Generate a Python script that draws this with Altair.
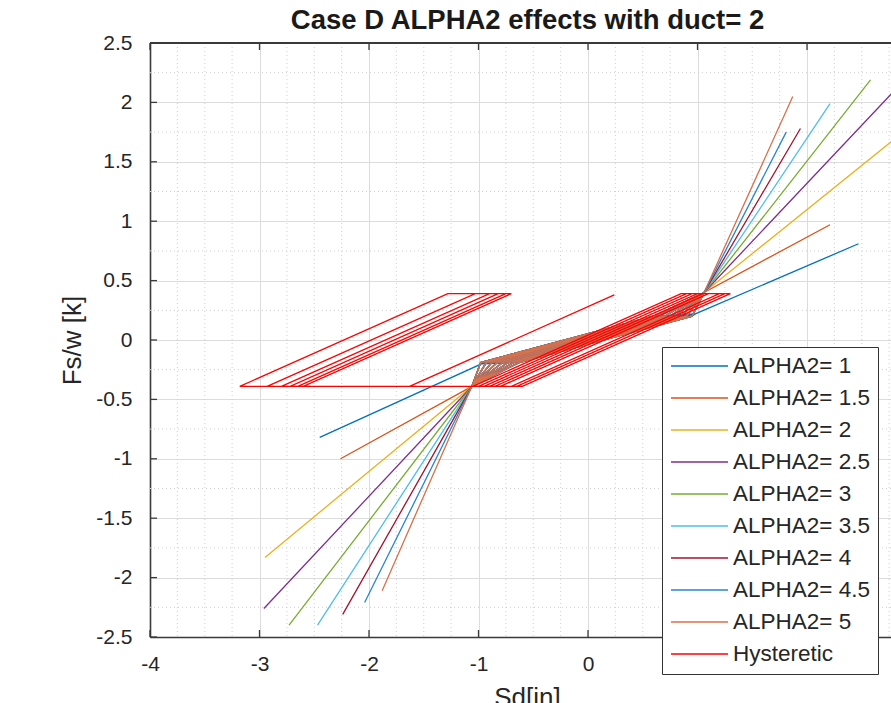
import altair as alt
import pandas as pd

# ---------------- data ----------------
labels = ["ALPHA2= 1", "ALPHA2= 1.5", "ALPHA2= 2", "ALPHA2= 2.5", "ALPHA2= 3",
          "ALPHA2= 3.5", "ALPHA2= 4", "ALPHA2= 4.5", "ALPHA2= 5", "Hysteretic"]
colors = ["#0072BD", "#D95319", "#EDB120", "#7E2F8E", "#77AC30",
          "#4DBEEE", "#A2142F", "#2A85D0", "#D8704A", "#FF0000"]

# ALPHA2 curve end points (negative / positive excursion)
neg_end_x = [-2.45, -2.26, -2.95, -2.96, -2.73, -2.47, -2.24, -2.04, -1.88]
neg_end_y = [-0.82, -1.00, -1.83, -2.26, -2.40, -2.40, -2.31, -2.21, -2.11]
pos_end_x = [2.47, 2.21, 2.85, 2.85, 2.58, 2.21, 1.94, 1.81, 1.87]
pos_end_y = [0.81, 0.97, 1.73, 2.15, 2.19, 1.99, 1.78, 1.75, 2.05]
# points where each curve leaves the central flag
neg_conv_x = [-0.97, -1.06, -1.06, -1.06, -1.06, -1.06, -1.06, -1.06, -1.06]
neg_conv_y = [-0.20, -0.39, -0.39, -0.39, -0.39, -0.39, -0.39, -0.39, -0.39]
pos_conv_x = [0.98, 1.06, 1.06, 1.06, 1.06, 1.06, 1.06, 1.06, 1.06]
pos_conv_y = [0.22, 0.40, 0.40, 0.40, 0.40, 0.40, 0.40, 0.40, 0.40]
# central flag plateaus
flag_top_x = [0.60, 0.65, 0.70, 0.75, 0.80, 0.85, 0.90, 0.95]
flag_top_y = [0.20, 0.20, 0.20, 0.20, 0.20, 0.20, 0.20, 0.20]
flag_bot_x = [-0.63, -0.68, -0.73, -0.78, -0.83, -0.88, -0.93, -0.98]
flag_bot_y = [-0.19, -0.19, -0.19, -0.19, -0.19, -0.19, -0.19, -0.19]

# Hysteretic reference curve (vertices in drawing order)
hyst_x = [0, 0.95, 1.30, -0.60, -1.05, 0.85, 1.20, -0.70, -0.95, 0.95, 1.10,
          -0.80, -0.90, 1.00, 1.25, -0.65, -1.00, 0.90, 1.05, -0.85, -1.63,
          0.24, -1.63, -3.18, -1.28, -0.70, -2.60, -2.93, -1.03, -0.82, -2.72,
          -2.80, -0.90, -0.75, -2.65]
hyst_y = [0, 0.39, 0.39, -0.39, -0.39, 0.39, 0.39, -0.39, -0.39, 0.39, 0.39,
          -0.39, -0.39, 0.39, 0.39, -0.39, -0.39, 0.39, 0.39, -0.39, -0.39,
          0.38, -0.39, -0.39, 0.39, 0.39, -0.39, -0.39, 0.39, 0.39, -0.39,
          -0.39, 0.39, 0.39, -0.39]

x_major = [-4, -3, -2, -1, 0, 1, 2]
y_major = [-2.5, -2, -1.5, -1, -0.5, 0, 0.5, 1, 1.5, 2, 2.5]
x_minor = [v / 4 for v in range(-16, 12) if v % 4 != 0]
y_minor = [v / 4 for v in range(-10, 11) if v % 2 != 0]

# ---------------- build long table ----------------
n_flag = len(flag_top_x)
rows = []
for i in range(9):
    pts = [(0, 0), (0.95, 0.2),
           (pos_conv_x[i], pos_conv_y[i]), (pos_end_x[i], pos_end_y[i]),
           (pos_conv_x[i], pos_conv_y[i])]
    for k in range(n_flag):
        pts.append((flag_top_x[k], flag_top_y[k]))
        pts.append((flag_bot_x[n_flag - 1 - k], flag_bot_y[n_flag - 1 - k]))
        pts.append((neg_conv_x[i], neg_conv_y[i]))
        if k == 0:
            pts.append((neg_end_x[i], neg_end_y[i]))
            pts.append((neg_conv_x[i], neg_conv_y[i]))
        pts.append((flag_bot_x[k], flag_bot_y[k]))
        pts.append((flag_top_x[n_flag - 1 - k], flag_top_y[n_flag - 1 - k]))
        pts.append((pos_conv_x[i], pos_conv_y[i]))
    for j, (px, py) in enumerate(pts):
        rows.append({"series": labels[i], "o": j, "x": px, "y": py})
for j, (px, py) in enumerate(zip(hyst_x, hyst_y)):
    rows.append({"series": labels[9], "o": j, "x": px, "y": py})
df = pd.DataFrame(rows)

W, H = 741, 594
XDOM = [-4, 2.767]
YDOM = [-2.5, 2.5]
xs = alt.Scale(domain=XDOM, nice=False, zero=False)
ys = alt.Scale(domain=YDOM, nice=False, zero=False)
FONT = "Liberation Sans"

x_axis = alt.Axis(values=x_major, title="Sd[in]", grid=True,
                  gridColor="#dcdcdc", gridWidth=1, tickSize=0,
                  labelPadding=16, labelFontSize=21, labelFont=FONT,
                  labelColor="#262626", domainColor="#3a3a3a",
                  domainWidth=1.6, titleFont=FONT, titleFontSize=26,
                  titleFontWeight="normal", titleColor="#262626",
                  titleX=377, titleY=47, titleBaseline="top",
                  titleAlign="center", labelExpr="datum.value + ''",
                  labelFlush=False, labelOverlap=False)
y_axis = alt.Axis(values=y_major, title="Fs/w [k]", grid=True,
                  gridColor="#dcdcdc", gridWidth=1, tickSize=0,
                  labelPadding=18, labelFontSize=21, labelFont=FONT,
                  labelColor="#262626", domainColor="#3a3a3a",
                  domainWidth=1.6, titleFont=FONT, titleFontSize=26,
                  titleFontWeight="normal", titleColor="#262626",
                  titleX=-78, titleY=297, titleAngle=-90,
                  titleBaseline="middle", titleAlign="center",
                  labelExpr="datum.value + ''", labelFlush=False,
                  labelOverlap=False)

minor_x = alt.Chart(pd.DataFrame({"v": x_minor})).mark_rule(
    color="#cfcfcf", strokeDash=[1, 3], strokeWidth=1
).encode(x=alt.X("v:Q", scale=xs, axis=x_axis))
minor_y = alt.Chart(pd.DataFrame({"v": y_minor})).mark_rule(
    color="#cfcfcf", strokeDash=[1, 3], strokeWidth=1
).encode(y=alt.Y("v:Q", scale=ys, axis=y_axis))

lines = alt.Chart(df).mark_line(strokeWidth=1.3, clip=True).encode(
    x=alt.X("x:Q", scale=xs, axis=x_axis),
    y=alt.Y("y:Q", scale=ys, axis=y_axis),
    color=alt.Color("series:N", scale=alt.Scale(domain=labels, range=colors),
                    sort=labels,
                    legend=alt.Legend(title=None, orient="none", legendX=512,
                                      legendY=304, symbolType="stroke",
                                      symbolSize=3249, symbolStrokeWidth=1.6,
                                      clipHeight=22, rowPadding=9,
                                      labelFontSize=22.5, labelFont=FONT,
                                      labelColor="#262626", labelOffset=4,
                                      padding=8, fillColor="white",
                                      strokeColor="#333333", labelLimit=300)),
    detail="series:N",
    order="o:Q",
)

tick_df = pd.DataFrame({"v": x_major})
ytick_df = pd.DataFrame({"v": y_major})
bot_ticks = alt.Chart(tick_df).mark_rule(color="#3a3a3a", strokeWidth=1.3).encode(
    x=alt.X("v:Q", scale=xs, axis=x_axis), y=alt.value(H), y2=alt.value(H - 7))
top_ticks = alt.Chart(tick_df).mark_rule(color="#3a3a3a", strokeWidth=1.3).encode(
    x=alt.X("v:Q", scale=xs, axis=x_axis), y=alt.value(0), y2=alt.value(7))
left_ticks = alt.Chart(ytick_df).mark_rule(color="#3a3a3a", strokeWidth=1.3).encode(
    y=alt.Y("v:Q", scale=ys, axis=y_axis), x=alt.value(0), x2=alt.value(7))
top_border = alt.Chart(tick_df).mark_rule(color="#3a3a3a", strokeWidth=1.6).encode(
    x=alt.value(0), x2=alt.value(W), y=alt.value(0))

chart = alt.layer(minor_x, minor_y, lines, bot_ticks, top_ticks, left_ticks,
                  top_border).properties(
    width=W, height=H,
    title=alt.Title("Case D ALPHA2 effects with duct= 2", font=FONT,
                    fontSize=27.5, fontWeight="bold", color="#1a1a1a",
                    anchor="middle", dx=7, offset=-2),
    autosize=alt.AutoSizeParams(type="none"),
    padding={"left": 150, "top": 43, "right": 0, "bottom": 66},
).configure_view(stroke=None).configure(background="white")

chart.save("out.html", embed_options={"renderer": "svg", "actions": False})
